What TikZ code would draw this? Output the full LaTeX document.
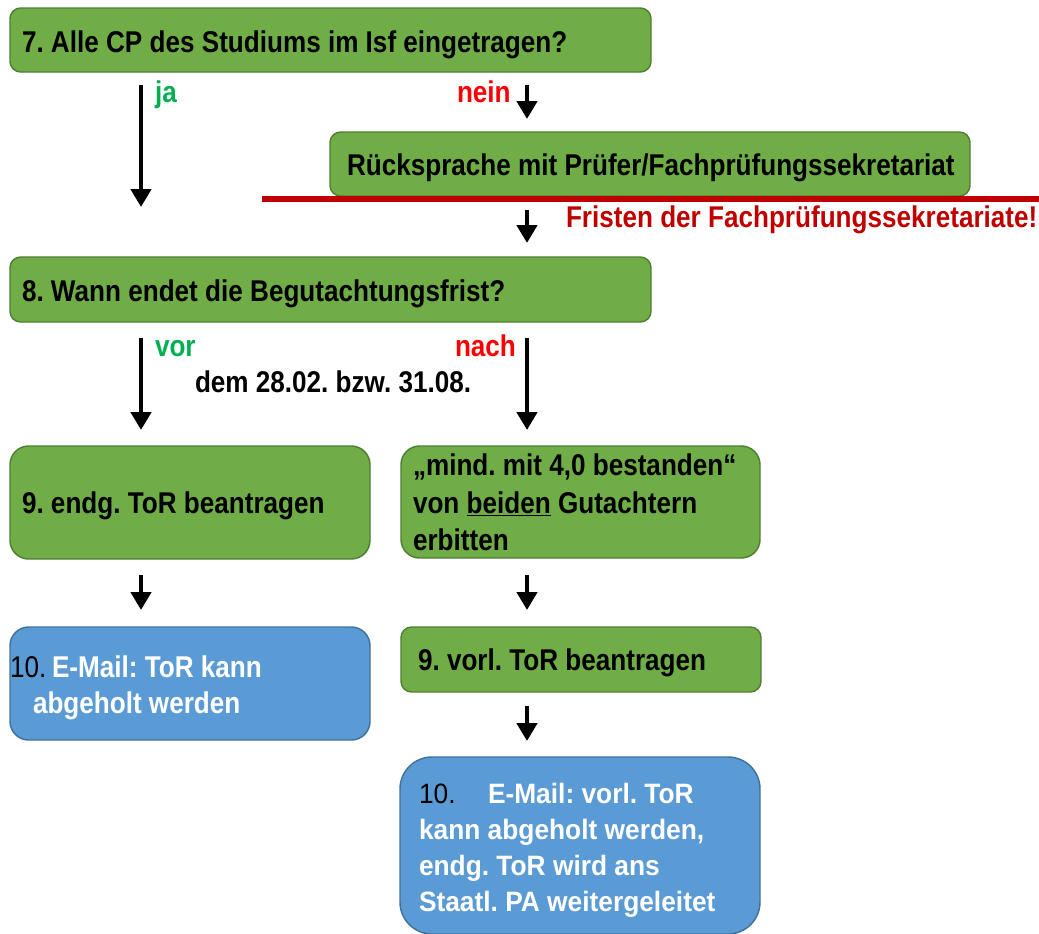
\documentclass[tikz,border=0pt]{standalone}
\usepackage{fontspec}
\setmainfont{Liberation Sans}
\newfontfamily\nf[FakeStretch=0.87]{Liberation Sans}
\newfontfamily\wf[FakeStretch=0.94]{Liberation Sans}
\usetikzlibrary{arrows.meta}
\frenchspacing
\definecolor{gfill}{HTML}{70AD47}
\definecolor{gdraw}{HTML}{507E32}
\definecolor{bfill}{HTML}{5B9BD5}
\definecolor{bdraw}{HTML}{41719C}
\definecolor{jagreen}{HTML}{00B050}
\definecolor{neinred}{HTML}{FF0000}
\definecolor{darkred}{HTML}{C00000}
\newcommand{\mkbox}[6]{\node[#6, anchor=north west, minimum width={(#4-#2)*0.75pt}, minimum height={(#5-#3)*0.75pt}] (#1) at (#2,#3) {};}
\tikzset{
  gbox/.style={draw=gdraw, fill=gfill, line width=1.1pt, rounded corners=#1, inner sep=0pt, outer sep=0pt},
  gbox/.default=8pt,
  bbox/.style={draw=bdraw, fill=bfill, line width=1.1pt, rounded corners=#1, inner sep=0pt, outer sep=0pt},
  bbox/.default=14pt,
  arr/.style={line width=3.4pt, -{Triangle[width=15pt,length=13.5pt]}},
  txt/.style={anchor=base west, inner sep=0pt, outer sep=0pt, font=\nf\bfseries\fontsize{22.5pt}{27pt}\selectfont},
  wtxt/.style={anchor=base west, inner sep=0pt, outer sep=0pt, text=white, font=\wf\bfseries\fontsize{21pt}{25pt}\selectfont},
}
\begin{document}
\begin{tikzpicture}[x=0.75pt, y=-0.75pt]
\useasboundingbox (0,0) rectangle (1039,933);
\clip (0,0) rectangle (1039,933);
% boxes
\mkbox{A}{10}{8}{651}{72}{gbox}
\mkbox{B}{330}{132}{970}{196}{gbox}
\mkbox{C}{10}{257}{651}{322}{gbox}
\mkbox{D}{10}{446}{370}{559}{gbox=14pt}
\mkbox{E}{401}{446}{760}{558}{gbox=14pt}
\mkbox{F}{10}{627}{370}{740}{bbox}
\mkbox{G}{401}{627}{761}{692}{gbox}
\mkbox{H}{400}{757}{760}{934}{bbox=24pt}
% red line
\coordinate (rl1) at (262,199);
\coordinate (rl2) at (1039,199);
\draw[darkred, line width=4.5pt] (rl1) -- (rl2);
% texts
\node[txt] (tA) at (22,52) {7. Alle CP des Studiums im Isf eingetragen?};
\node[txt] (tB) at (347,175) {Rücksprache mit Prüfer/Fachprüfungssekretariat};
\node[txt] (tC) at (22,301) {8. Wann endet die Begutachtungsfrist?};
\node[txt] (tD) at (22,513) {9. endg. ToR beantragen};
\node[txt] (tE1) at (413,475) {„mind. mit 4,0 bestanden“};
\node[txt] (tE2) at (413,513) {von \underline{beiden} Gutachtern};
\node[txt] (tE3) at (413,550) {erbitten};
\node[txt, font=\nf\fontsize{22.5pt}{27pt}\selectfont] (tF0) at (10,677) {10.};
\node[txt, text=white] (tF1) at (52,677) {E-Mail: ToR kann};
\node[txt, text=white] (tF2) at (33,713) {abgeholt werden};
\node[txt] (tG) at (418,670) {9. vorl. ToR beantragen};
\node[wtxt, text=black, font=\wf\fontsize{21pt}{25pt}\selectfont] (tH0) at (419,803) {10.};
\node[wtxt] (tH1) at (488,803) {E-Mail: vorl. ToR};
\node[wtxt] (tH2) at (419,839) {kann abgeholt werden,};
\node[wtxt] (tH3) at (419,875) {endg. ToR wird ans};
\node[wtxt] (tH4) at (419,911) {Staatl. PA weitergeleitet};
% labels
\node[txt, text=jagreen] (lja) at (155,102) {ja};
\node[txt, text=neinred] (lnein) at (457,102) {nein};
\node[txt, text=darkred] (lfr) at (566,227) {Fristen der Fachprüfungssekretariate!};
\node[txt, text=jagreen] (lvor) at (155,356) {vor};
\node[txt, text=neinred] (lnach) at (455,356) {nach};
\node[txt] (ldem) at (195,392) {dem 28.02. bzw. 31.08.};
% arrows
\coordinate (a1s) at (141,85);  \coordinate (a1e) at (141,207);
\coordinate (a2s) at (527,85);  \coordinate (a2e) at (527,119);
\coordinate (a3s) at (527,210); \coordinate (a3e) at (527,243);
\coordinate (a4s) at (141,338); \coordinate (a4e) at (141,430);
\coordinate (a5s) at (527,338); \coordinate (a5e) at (527,430);
\coordinate (a6s) at (141,575); \coordinate (a6e) at (141,610);
\coordinate (a7s) at (527,575); \coordinate (a7e) at (527,610);
\coordinate (a8s) at (527,706); \coordinate (a8e) at (527,741);
\draw[arr] (a1s) -- (a1e);
\draw[arr] (a2s) -- (a2e);
\draw[arr] (a3s) -- (a3e);
\draw[arr] (a4s) -- (a4e);
\draw[arr] (a5s) -- (a5e);
\draw[arr] (a6s) -- (a6e);
\draw[arr] (a7s) -- (a7e);
\draw[arr] (a8s) -- (a8e);
\end{tikzpicture}
\end{document}
